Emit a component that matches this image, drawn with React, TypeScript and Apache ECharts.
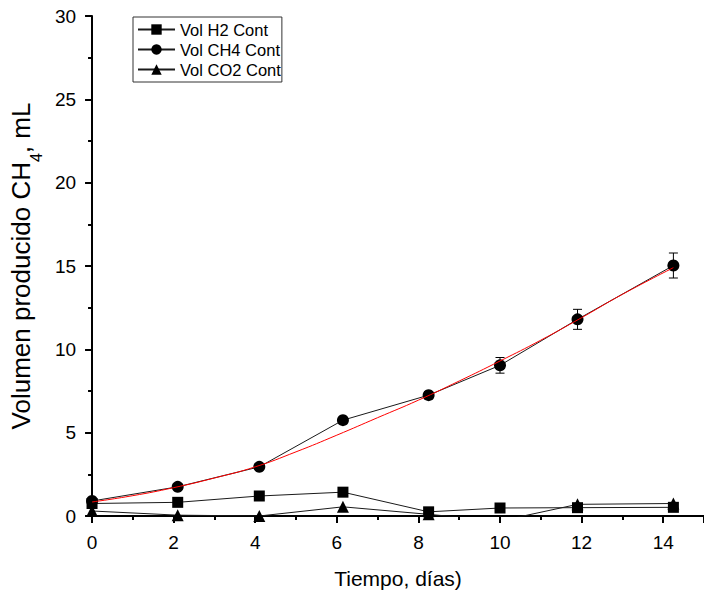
import React, { useEffect, useRef } from "react";
import * as echarts from "echarts";

const days = [0, 2.1, 4.1, 6.15, 8.25, 10.0, 11.9, 14.25];
const volH2 = [0.75, 0.82, 1.2, 1.43, 0.25, 0.48, 0.5, 0.52];
const volCH4 = [0.9, 1.75, 2.95, 5.75, 7.25, 9.04, 11.8, 15.03];
const errCH4 = [0.08, 0.1, 0.12, 0.15, 0.22, 0.47, 0.6, 0.75];
const volCO2 = [0.3, 0.05, 0.0, 0.55, 0.1, -0.3, 0.7, 0.75];
const fitX = [0, 1, 2, 3, 4, 5, 6, 7, 8, 9, 10, 11, 12, 13, 14.25];
const fitY = [0.84, 1.22, 1.7, 2.28, 2.95, 3.85, 4.85, 5.9, 6.95, 8.1, 9.3, 10.55, 11.9, 13.3, 14.9];
const seriesNames = ["Vol H2 Cont", "Vol CH4 Cont", "Vol CO2 Cont"];
const yTicks = { min: 0, max: 30, interval: 5 };
const xTicks = { min: 0, max: 15, interval: 2 };

const FONT = '"Liberation Sans", Arial, sans-serif';

export default function App() {
  const ref = useRef<HTMLDivElement>(null);
  useEffect(() => {
    if (!ref.current) return;
    const chart = echarts.init(ref.current, null, { renderer: "svg" });
    const pair = (ys: number[]) => days.map((d, i) => [d, ys[i]]);
    const lineStyle = { color: "#1a1a1a", width: 1 };
    chart.setOption({
      animation: false,
      backgroundColor: "#ffffff",
      textStyle: { fontFamily: FONT },
      grid: { left: 91, right: -10, top: 16, bottom: 77, containLabel: false },
      legend: {
        data: seriesNames,
        orient: "vertical",
        left: 133,
        top: 17,
        itemWidth: 37,
        itemHeight: 13,
        itemGap: 3,
        padding: [4, 1, 4, 4],
        borderColor: "#333",
        borderWidth: 1,
        borderRadius: 0,
        textStyle: { fontSize: 16.5, lineHeight: 17, color: "#000", fontFamily: FONT },
      },
      xAxis: {
        type: "value",
        min: xTicks.min,
        max: xTicks.max,
        interval: xTicks.interval,
        name: "Tiempo, días)",
        nameLocation: "middle",
        nameGap: 52,
        nameTextStyle: { fontSize: 21, color: "#000", fontFamily: FONT },
        axisLine: { show: true, onZero: false, lineStyle: { color: "#000", width: 2 } },
        axisTick: { show: true, length: 7, lineStyle: { color: "#000", width: 2 } },
        minorTick: { show: true, splitNumber: 2, length: 4, lineStyle: { color: "#000", width: 2 } },
        axisLabel: { fontSize: 19, color: "#000", margin: 17, showMaxLabel: false, fontFamily: FONT },
        splitLine: { show: false },
      },
      yAxis: {
        type: "value",
        min: yTicks.min,
        max: yTicks.max,
        interval: yTicks.interval,
        name: "{a|Volumen producido CH}{s|4}{a|, mL}",
        nameLocation: "middle",
        nameRotate: 90,
        nameGap: 50,
        nameTextStyle: {
          color: "#000",
          fontFamily: FONT,
          rich: {
            a: { fontSize: 26, color: "#000", fontFamily: FONT, lineHeight: 30, verticalAlign: "middle" },
            s: { fontSize: 16, color: "#000", fontFamily: FONT, lineHeight: 30, verticalAlign: "bottom", padding: [0, 0, -8, 0] },
          },
        },
        axisLine: { show: true, onZero: false, lineStyle: { color: "#000", width: 2 } },
        axisTick: { show: true, length: 7, lineStyle: { color: "#000", width: 2 } },
        minorTick: { show: true, splitNumber: 2, length: 4, lineStyle: { color: "#000", width: 2 } },
        axisLabel: { fontSize: 19, color: "#000", margin: 16, fontFamily: FONT },
        splitLine: { show: false },
      },
      series: [
        {
          name: seriesNames[0],
          type: "line",
          data: pair(volH2),
          symbol: "rect",
          symbolSize: 11,
          lineStyle,
          itemStyle: { color: "#000" },
        },
        {
          name: seriesNames[1],
          type: "line",
          data: pair(volCH4),
          symbol: "circle",
          symbolSize: 12,
          lineStyle,
          itemStyle: { color: "#000" },
        },
        {
          name: seriesNames[2],
          type: "line",
          data: pair(volCO2),
          symbol: "triangle",
          symbolSize: 12,
          lineStyle,
          itemStyle: { color: "#000" },
        },
        {
          name: "errCH4",
          type: "custom",
          data: days.map((d, i) => [d, volCH4[i], errCH4[i]]),
          encode: { x: 0, y: 1 },
          z: 3,
          renderItem: (params: any, api: any) => {
            const x = api.value(0);
            const y = api.value(1);
            const e = api.value(2);
            const top = api.coord([x, y + e]);
            const bot = api.coord([x, y - e]);
            const h = 4.5;
            const st = { stroke: "#000", lineWidth: 1 };
            return {
              type: "group",
              children: [
                { type: "line", shape: { x1: top[0], y1: top[1], x2: bot[0], y2: bot[1] }, style: st },
                { type: "line", shape: { x1: top[0] - h, y1: top[1], x2: top[0] + h, y2: top[1] }, style: st },
                { type: "line", shape: { x1: bot[0] - h, y1: bot[1], x2: bot[0] + h, y2: bot[1] }, style: st },
              ],
            };
          },
        },
        {
          name: "fit",
          type: "line",
          data: fitX.map((x, i) => [x, fitY[i]]),
          smooth: true,
          symbol: "none",
          lineStyle: { color: "#ff0000", width: 1 },
          z: 4,
        },
      ],
    });
    return () => chart.dispose();
  }, []);
  return (
    <div
      ref={ref}
      style={{ position: "fixed", left: 0, top: 0, width: 704, height: 594, background: "#fff" }}
    />
  );
}
